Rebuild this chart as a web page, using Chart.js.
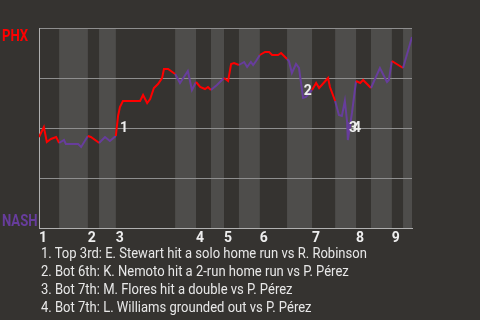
<!DOCTYPE html>
<html>
<head>
<meta charset="utf-8">
<script src="https://cdn.jsdelivr.net/npm/chart.js@4.4.1/dist/chart.umd.min.js"></script>
<style>
  body { margin: 0; background: #353330; }
  #wrap { position: relative; width: 480px; height: 320px; }
  #notes { position: absolute; left: 41px; top: 244px; font: 14px Roboto, sans-serif; line-height: 18px; color: #e8e8e8; white-space: nowrap; transform: scaleX(0.93); transform-origin: left top; }
</style>
</head>
<body>
<div id="wrap">
  <canvas id="myChart" width="480" height="320"></canvas>
  <div id="notes"></div>
</div>
<script>
// game progress (0-100) of each play and PHX win probability (%) after it
const playX = [0, 1.3, 2.1, 3.2, 4.6, 5.4, 6.7, 7.2, 10.5, 11.3, 13.1, 13.9, 15.8, 16.1, 17.7, 19.0,
    20.6, 21.2, 21.7, 22.5, 27.1, 27.9, 29.0, 29.8, 30.8, 31.9, 33.0, 33.5, 34.6, 36.5, 37.8, 39.9,
    41.0, 42.1, 43.2, 44.5, 45.3, 46.1, 47.7, 49.6, 50.7, 51.5, 52.3, 53.6, 55.0, 55.8, 56.8, 57.4,
    58.2, 59.2, 60.6, 61.7, 62.5, 64.1, 64.9, 66.5, 67.0, 67.8, 68.9, 69.7, 70.8, 71.6, 73.2, 74.3,
    75.1, 77.5, 78.0, 79.4, 80.4, 81.2, 82.0, 82.6, 82.8, 83.9, 85.0, 86.1, 86.9, 89.0, 91.4, 93.3,
    93.8, 94.6, 97.6, 100];
const phxWinPct = [45.5, 50.5, 43, 44.5, 45.5, 42.5, 44, 42, 42, 40.5, 46, 45.5, 43, 42.5, 45.5, 43.5,
    46, 56, 60.5, 63.5, 63.5, 66.5, 62.5, 64.5, 70, 72, 75, 79.5, 79.5, 77, 72.5, 78.5,
    69, 73, 70.5, 69.5, 70.5, 69, 71.5, 75, 73.5, 82, 82.5, 81.5, 83, 80.5, 83, 81.5,
    83.5, 86.5, 88, 88, 86.5, 86.5, 87.5, 84.5, 83.5, 77.5, 82, 80, 65, 65.5, 69, 72.5,
    70, 75, 70.5, 63.5, 56.5, 56, 63.5, 53, 44, 57.5, 73.5, 72.5, 74, 70, 80, 73,
    74, 83.5, 80, 95.5];

// start of each half inning (top, bottom, top, ...)
const halfStarts = [0, 5.4, 13.1, 16.1, 20.6, 36.5, 42.1, 46.1, 49.6, 53.6, 59.2, 66.5, 73.2, 79.4,
    85.0, 89.0, 94.6, 97.6];
const innings = ['1', '2', '3', '4', '5', '6', '7', '8', '9'];

// key plays
const eventMarks = ['1', '2', '3', '4'];
const eventX = [21.7, 71.0, 83.1, 84.2];
const eventY = [50, 68.5, 50, 50];
const notes = [
    '1. Top 3rd: E. Stewart hit a solo home run vs R. Robinson',
    '2. Bot 6th: K. Nemoto hit a 2-run home run vs P. Pérez',
    '3. Bot 7th: M. Flores hit a double vs P. Pérez',
    '4. Bot 7th: L. Williams grounded out vs P. Pérez'
];

const awayColor = '#ff0000';
const homeColor = '#673d9c';

function isBottomHalf(x) {
    let idx = 0;
    for (let i = 0; i < halfStarts.length; i++) {
        if (halfStarts[i] <= x + 1e-9) idx = i;
    }
    return idx % 2 === 1;
}

const inningStarts = halfStarts.filter((v, i) => i % 2 === 0);

// narrow bold team name
function teamLabel(ctx, text, x, y) {
    ctx.save();
    ctx.translate(x, y);
    ctx.scale(0.82, 1);
    ctx.fillText(text, 0, 0);
    ctx.restore();
}

const gamePlugin = {
    id: 'gamePlugin',
    beforeDraw(chart) {
        const {ctx, chartArea, scales} = chart;
        ctx.save();
        ctx.fillStyle = '#353330';
        ctx.fillRect(0, 0, chart.width, chart.height);
        ctx.fillStyle = '#4e4d4b';
        for (let i = 1; i < halfStarts.length; i += 2) {
            const x0 = scales.x.getPixelForValue(halfStarts[i]);
            const x1 = scales.x.getPixelForValue(i + 1 < halfStarts.length ? halfStarts[i + 1] : 100);
            ctx.fillRect(x0, chartArea.top, x1 - x0, chartArea.bottom - chartArea.top);
        }
        ctx.restore();
    },
    afterDraw(chart) {
        const {ctx, scales} = chart;
        ctx.save();
        ctx.font = 'bold 16px Roboto';
        ctx.textAlign = 'left';
        ctx.textBaseline = 'alphabetic';
        ctx.fillStyle = awayColor;
        teamLabel(ctx, 'PHX', 2, scales.y.getPixelForValue(100) + 13);
        ctx.fillStyle = homeColor;
        teamLabel(ctx, 'NASH', 2, scales.y.getPixelForValue(0) - 2);

        ctx.font = 'bold 14px Roboto';
        ctx.textBaseline = 'middle';
        ctx.fillStyle = '#eeeeee';
        eventMarks.forEach((m, i) => {
            ctx.fillText(m, scales.x.getPixelForValue(eventX[i]), scales.y.getPixelForValue(eventY[i]));
        });
        ctx.restore();
    }
};

const ctx = document.getElementById('myChart').getContext('2d');
const myChart = new Chart(ctx, {
    type: 'line',
    data: {
        datasets: [{
            data: playX.map((x, i) => ({x: x, y: phxWinPct[i]})),
            borderWidth: 2,
            borderColor: awayColor,
            pointRadius: 0,
            tension: 0,
            segment: {
                borderColor: c => isBottomHalf(c.p0.parsed.x) ? homeColor : awayColor
            }
        }]
    },
    options: {
        responsive: false,
        animation: false,
        layout: { padding: { top: 28, right: 68, left: 0, bottom: 0 } },
        plugins: { legend: { display: false }, tooltip: { enabled: false } },
        scales: {
            x: {
                type: 'linear',
                min: 0,
                max: 100,
                afterFit: s => { s.height = 92; },
                afterBuildTicks: s => { s.ticks = inningStarts.map(v => ({value: v})); },
                grid: { drawOnChartArea: false, drawTicks: false },
                border: { color: '#b0b0b0', width: 1 },
                ticks: {
                    autoSkip: false,
                    maxRotation: 0,
                    align: 'start',
                    padding: 2,
                    color: '#eeeeee',
                    font: { family: 'Roboto', size: 14, weight: 'bold' },
                    callback: (v, i) => innings[i]
                }
            },
            y: {
                min: 0,
                max: 100,
                afterFit: s => { s.width = 39; },
                ticks: { display: false, stepSize: 25 },
                grid: { color: '#8e8e8e', drawTicks: false },
                border: { color: '#b0b0b0', width: 1 }
            }
        }
    },
    plugins: [gamePlugin]
});

document.getElementById('notes').innerHTML = notes.map(n => '<div>' + n + '</div>').join('');
</script>
</body>
</html>
